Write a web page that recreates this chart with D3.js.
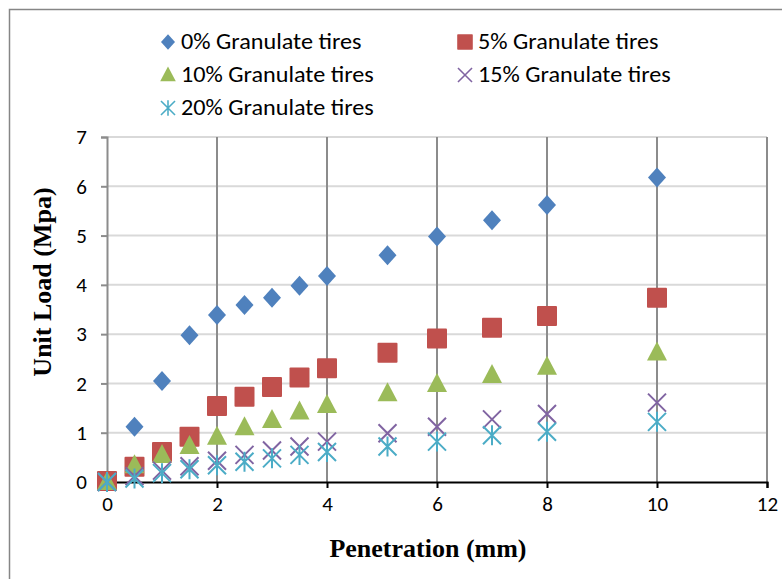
<!DOCTYPE html>
<html lang="en">
<head>
<meta charset="utf-8">
<title>Unit Load vs Penetration</title>
<script src="https://cdn.jsdelivr.net/npm/d3@7/dist/d3.min.js"></script>
<style>
  body { margin: 0; background: #fff; }
  text { font-family: Carlito, "Liberation Sans Narrow", "Open Sans", sans-serif; fill: #000; }
</style>
</head>
<body>
<script>
// penetration values (mm)
var penetration = [0, 0.5, 1, 1.5, 2, 2.5, 3, 3.5, 4, 5.1, 6, 7, 8, 10];

// unit load (Mpa) per mix
var load0  = [0, 1.12, 2.05, 2.98, 3.39, 3.59, 3.74, 3.98, 4.18, 4.60, 4.98, 5.31, 5.62, 6.18];
var load5  = [0.02, 0.31, 0.61, 0.92, 1.54, 1.73, 1.93, 2.12, 2.31, 2.62, 2.91, 3.13, 3.37, 3.74];
var load10 = [0, 0.34, 0.55, 0.73, 0.92, 1.11, 1.26, 1.43, 1.56, 1.80, 1.99, 2.17, 2.34, 2.63];
var load15 = [0, 0.12, 0.23, 0.32, 0.43, 0.55, 0.64, 0.72, 0.82, 0.99, 1.12, 1.27, 1.38, 1.61];
var load20 = [0, 0.07, 0.18, 0.26, 0.34, 0.41, 0.48, 0.55, 0.61, 0.72, 0.82, 0.95, 1.02, 1.22];

var seriesNames = ["0% Granulate tires", "5% Granulate tires", "10% Granulate tires",
                   "15% Granulate tires", "20% Granulate tires"];
var xTicks = [0, 2, 4, 6, 8, 10, 12];
var yTicks = [0, 1, 2, 3, 4, 5, 6, 7];

var w = 782, h = 579;
var margin = {top: 137, right: 15, bottom: 97, left: 107};

var series = [
  {name: seriesNames[0], values: load0,  color: "#4f81bd", shape: "diamond"},
  {name: seriesNames[1], values: load5,  color: "#c0504d", shape: "square"},
  {name: seriesNames[2], values: load10, color: "#9bbb59", shape: "triangle"},
  {name: seriesNames[3], values: load15, color: "#8064a2", shape: "x"},
  {name: seriesNames[4], values: load20, color: "#4bacc6", shape: "star"}
];

var svg = d3.select("body").append("svg")
  .attr("width", w)
  .attr("height", h);

// outer chart frame
svg.append("rect")
  .attr("x", 9.5).attr("y", 9.5)
  .attr("width", w + 10).attr("height", h + 10)
  .attr("fill", "none")
  .attr("stroke", "#868686")
  .attr("stroke-width", 1.5);

var xScale = d3.scaleLinear().domain([0, 12]).range([margin.left, w - margin.right]);
var yScale = d3.scaleLinear().domain([0, 7]).range([h - margin.bottom, margin.top]);

// horizontal gridlines
svg.append("g")
  .selectAll("line")
  .data(yTicks.slice(1))
  .enter().append("line")
  .attr("x1", xScale(0)).attr("x2", xScale(12))
  .attr("y1", function(d) { return yScale(d); })
  .attr("y2", function(d) { return yScale(d); })
  .attr("stroke", "#d9d9d9")
  .attr("stroke-width", 2);

// vertical gridlines
svg.append("g")
  .selectAll("line")
  .data(xTicks.slice(1))
  .enter().append("line")
  .attr("x1", function(d) { return xScale(d); })
  .attr("x2", function(d) { return xScale(d); })
  .attr("y1", yScale(7)).attr("y2", yScale(0))
  .attr("stroke", "#8c8c8c")
  .attr("stroke-width", 2);

// y axis
var yAxis = d3.axisLeft(yScale).tickValues(yTicks).tickFormat(d3.format("d"))
  .tickSize(6).tickPadding(14);
var gy = svg.append("g")
  .attr("transform", "translate(" + margin.left + ",0)")
  .call(yAxis);
gy.select(".domain").attr("stroke", "#8c8c8c").attr("stroke-width", 2);
gy.selectAll(".tick line").attr("stroke", "#8c8c8c").attr("stroke-width", 2);
gy.selectAll("text").style("font-size", "21px");

// x axis
var xAxis = d3.axisBottom(xScale).tickValues(xTicks).tickFormat(d3.format("d"))
  .tickSize(6).tickPadding(8);
var gx = svg.append("g")
  .attr("transform", "translate(0," + yScale(0) + ")")
  .call(xAxis);
gx.select(".domain").attr("stroke", "#000").attr("stroke-width", 2);
gx.selectAll(".tick line").attr("stroke", "#000").attr("stroke-width", 2);
gx.selectAll("text").style("font-size", "21px");

// marker shapes
function drawMarker(g, shape, color) {
  if (shape === "diamond") {
    g.append("path").attr("d", "M0,-10L9,0L0,10L-9,0Z").attr("fill", color);
  } else if (shape === "square") {
    g.append("rect").attr("x", -10).attr("y", -10).attr("width", 20).attr("height", 20)
      .attr("rx", 1).attr("fill", color);
  } else if (shape === "triangle") {
    g.append("path").attr("d", "M0,-11L10,8L-10,8Z").attr("fill", color);
  } else if (shape === "x") {
    g.append("path").attr("d", "M-9,-9L9,9M-9,9L9,-9")
      .attr("stroke", color).attr("stroke-width", 2).attr("fill", "none");
  } else if (shape === "star") {
    g.append("path").attr("d", "M-9,-9L9,9M-9,9L9,-9M0,-10L0,10")
      .attr("stroke", color).attr("stroke-width", 2).attr("fill", "none");
  }
}

// data points
series.forEach(function(s) {
  svg.append("g")
    .selectAll("g")
    .data(s.values)
    .enter().append("g")
    .attr("transform", function(d, i) {
      return "translate(" + xScale(penetration[i]) + "," + yScale(d) + ")";
    })
    .each(function() { drawMarker(d3.select(this), s.shape, s.color); });
});

// legend
var legendPos = [[168, 42], [465, 42], [168, 75], [465, 75], [168, 108]];
series.forEach(function(s, i) {
  var lg = svg.append("g")
    .attr("transform", "translate(" + legendPos[i][0] + "," + legendPos[i][1] + ")");
  var m = lg.append("g").attr("transform", "scale(0.78)");
  drawMarker(m, s.shape, s.color);
  lg.append("text")
    .attr("transform", "translate(13,7) scale(1.1,1)")
    .style("font-size", "22px")
    .text(s.name);
});

// axis titles
svg.append("text")
  .attr("x", 428)
  .attr("y", 557)
  .style("text-anchor", "middle")
  .style("font-family", "'Liberation Serif', 'Times New Roman', serif")
  .style("font-weight", "bold")
  .style("font-size", "26px")
  .text("Penetration (mm)");

svg.append("text")
  .attr("transform", "translate(51,282) rotate(-90)")
  .style("text-anchor", "middle")
  .style("font-family", "'Liberation Serif', 'Times New Roman', serif")
  .style("font-weight", "bold")
  .style("font-size", "26px")
  .text("Unit Load (Mpa)");
</script>
</body>
</html>
